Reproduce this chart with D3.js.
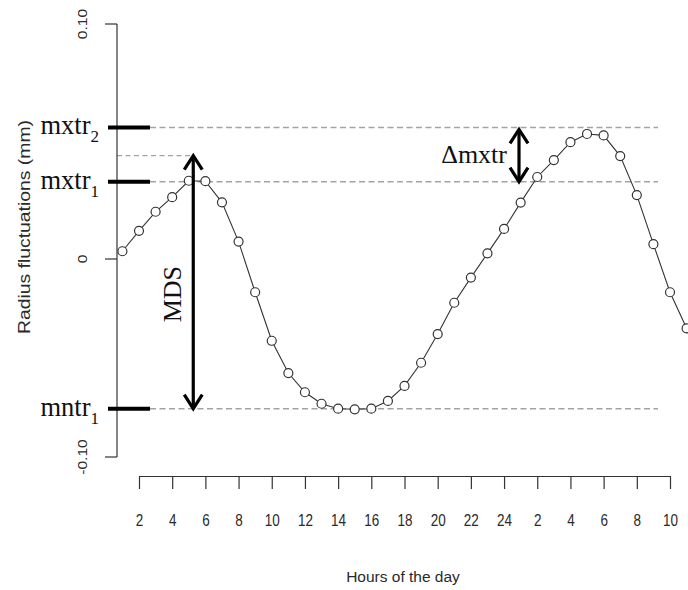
<!DOCTYPE html>
<html>
<head>
<meta charset="utf-8">
<script src="https://cdn.jsdelivr.net/npm/d3@7"></script>
<style>
  html, body { margin: 0; padding: 0; background: #fff; }
  svg { display: block; }
  .sans { font-family: "Liberation Sans", Arial, sans-serif; fill: #2a2a2a; }
  .serif { font-family: "Liberation Serif", "Times New Roman", serif; fill: #111; }
</style>
</head>
<body>
<svg id="chart" width="688" height="590"></svg>
<script>
// ---- data ----
const hours = [1,2,3,4,5,6,7,8,9,10,11,12,13,14,15,16,17,18,19,20,21,22,23,24,25,26,27,28,29,30,31,32,33,34,35];
const radius = [0.0033,0.0120,0.0201,0.0263,0.0333,0.0331,0.0241,0.0074,-0.0168,-0.0413,
                -0.0576,-0.0673,-0.0731,-0.0756,-0.0759,-0.0756,-0.0717,-0.0641,-0.0524,-0.0379,
                -0.0221,-0.0094,0.0024,0.0128,0.0240,0.0349,0.0421,0.0497,0.0532,0.0526,
                0.0438,0.0272,0.0063,-0.0168,-0.0350];
const xTickValues = [2,4,6,8,10,12,14,16,18,20,22,24,26,28,30,32,34];
const xTickLabels = ["2","4","6","8","10","12","14","16","18","20","22","24","2","4","6","8","10"];
const yTickValues = [-0.10, 0, 0.10];
const yTickLabels = ["-0.10", "0", "0.10"];
const refNames = ["mxtr", "mxtr", "mntr"];
const refSubs = ["2", "1", "1"];
const refValues = [0.0560, 0.0329, -0.0756];
const mdsTop = 0.0440;
const mdsHour = 5.27;
const deltaHour = 24.9;

// ---- scales ----
const svg = d3.select("#chart");
const x = d3.scaleLinear().domain([2, 34]).range([139, 670]);
const y = d3.scaleLinear().domain([-0.10, 0, 0.10]).range([457, 259, 24]);
const axisX = 117;

// ---- reference dashed lines ----
refValues.forEach((v) => {
  svg.append("line")
    .attr("x1", 150).attr("x2", 658)
    .attr("y1", y(v)).attr("y2", y(v))
    .attr("stroke", "#a3a3a3").attr("stroke-width", 1.5)
    .attr("stroke-dasharray", "6,3.5");
});
svg.append("line")
  .attr("x1", axisX).attr("x2", x(mdsHour))
  .attr("y1", y(mdsTop)).attr("y2", y(mdsTop))
  .attr("stroke", "#a3a3a3").attr("stroke-width", 1.1)
  .attr("stroke-dasharray", "5,3.5");

// ---- y axis ----
const yAxis = svg.append("g");
yAxis.append("line")
  .attr("x1", axisX).attr("x2", axisX)
  .attr("y1", y(0.10)).attr("y2", y(-0.10))
  .attr("stroke", "#333").attr("stroke-width", 1.2);
yTickValues.forEach((v, i) => {
  yAxis.append("line")
    .attr("x1", axisX - 12).attr("x2", axisX)
    .attr("y1", y(v)).attr("y2", y(v))
    .attr("stroke", "#333").attr("stroke-width", 1.2);
  yAxis.append("text").attr("class", "sans")
    .attr("transform", `translate(87,${y(v)}) rotate(-90) scale(1.2,1)`)
    .attr("text-anchor", "middle")
    .attr("font-size", 13)
    .text(yTickLabels[i]);
});

// thick markers + labels at reference levels
refValues.forEach((v, i) => {
  svg.append("line")
    .attr("x1", 108).attr("x2", 150)
    .attr("y1", y(v)).attr("y2", y(v))
    .attr("stroke", "#000").attr("stroke-width", 4);
  const t = svg.append("text").attr("class", "serif")
    .attr("x", 99).attr("y", y(v) + 7)
    .attr("text-anchor", "end")
    .attr("font-size", 26.5);
  t.append("tspan").text(refNames[i]);
  t.append("tspan").attr("font-size", 17).attr("dy", 8).text(refSubs[i]);
});

// ---- x axis ----
const xAxisG = svg.append("g").attr("transform", "translate(0,476)");
const xAxis = d3.axisBottom(x).tickValues(xTickValues).tickSize(13).tickSizeOuter(0)
  .tickFormat((d, i) => xTickLabels[i]);
xAxisG.call(xAxis);
xAxisG.select(".domain").attr("stroke", "#333").attr("stroke-width", 1.2);
xAxisG.selectAll(".tick line").attr("stroke", "#333").attr("stroke-width", 1.2);
xAxisG.selectAll(".tick text")
  .attr("class", "sans")
  .attr("font-size", 13.5)
  .attr("fill", "#2a2a2a")
  .attr("y", 0).attr("dy", 0)
  .attr("transform", "translate(0,50) scale(1,1.2)");

// ---- axis titles ----
svg.append("text").attr("class", "sans")
  .attr("x", 403).attr("y", 582)
  .attr("text-anchor", "middle")
  .attr("font-size", 15.5)
  .text("Hours of the day");
svg.append("text").attr("class", "sans")
  .attr("transform", "translate(30,227) rotate(-90)")
  .attr("text-anchor", "middle")
  .attr("font-size", 17)
  .attr("textLength", 214).attr("lengthAdjust", "spacingAndGlyphs")
  .text("Radius fluctuations (mm)");

// ---- data line + points ----
const pts = hours.map((h, i) => [h, radius[i]]);
svg.append("path")
  .datum(pts)
  .attr("fill", "none")
  .attr("stroke", "#333")
  .attr("stroke-width", 1.1)
  .attr("d", d3.line().x(d => x(d[0])).y(d => y(d[1])));
svg.selectAll("circle.pt")
  .data(pts)
  .join("circle")
  .attr("class", "pt")
  .attr("cx", d => x(d[0])).attr("cy", d => y(d[1]))
  .attr("r", 4.5)
  .attr("fill", "#fff")
  .attr("stroke", "#333")
  .attr("stroke-width", 1.2);

// ---- arrows ----
function arrowHead(xp, yp, dir) { // dir: -1 pointing up, +1 pointing down
  const hl = 14, hw = 9;
  return `M${xp - hw},${yp - dir * hl} L${xp},${yp} L${xp + hw},${yp - dir * hl}`;
}
function drawArrow(xp, y1, y2, both) {
  const g = svg.append("g").attr("stroke", "#000").attr("stroke-width", 3.2).attr("fill", "none");
  g.append("line").attr("x1", xp).attr("x2", xp).attr("y1", y1 + 1).attr("y2", y2 - 1);
  g.append("path").attr("d", arrowHead(xp, y2, 1));
  if (both) g.append("path").attr("d", arrowHead(xp, y1, -1));
}
drawArrow(x(mdsHour), y(mdsTop), y(refValues[2]), true);
drawArrow(x(deltaHour), y(refValues[0]) + 2, y(refValues[1]), true);

svg.append("text").attr("class", "serif")
  .attr("transform", `translate(181,${(y(mdsTop) + y(refValues[2])) / 2 + 12}) rotate(-90)`)
  .attr("text-anchor", "middle")
  .attr("font-size", 26)
  .text("MDS");
svg.append("text").attr("class", "serif")
  .attr("x", 507).attr("y", 163)
  .attr("text-anchor", "end")
  .attr("font-size", 26)
  .text("\u0394mxtr");
</script>
</body>
</html>
